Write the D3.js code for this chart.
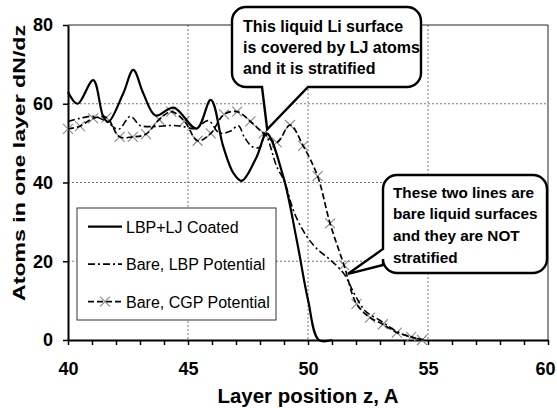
<!DOCTYPE html>
<html>
<head>
<meta charset="utf-8">
<script src="https://cdn.jsdelivr.net/npm/d3@7"></script>
<style>
  body { margin: 0; background: #fff; }
  text { font-family: "Liberation Sans", Arial, sans-serif; }
</style>
</head>
<body>
<div id="chart"></div>
<script>
// layer position z (A) and atoms per layer
const coatedZ = [40.0, 40.4, 41.05, 41.47, 41.68, 42.3, 42.72, 43.14, 43.65, 44.4, 45.36, 45.95, 46.47, 46.9, 47.24, 47.86, 48.28, 48.97, 49.53, 50.0, 50.45, 51.0];
const coatedN = [63, 60, 66, 56.7, 55.4, 62.6, 68.6, 62.6, 57, 59, 53.7, 61, 49.1, 42.3, 40.4, 46.5, 52.5, 41.5, 25.4, 10.2, 0, 0];

const lbpZ = [40.0, 40.5, 41.05, 41.6, 42.1, 42.6, 43.0, 43.6, 44.3, 44.8, 45.3, 45.85, 46.3, 46.75, 47.1, 47.35, 47.7, 48.0, 48.2, 48.7, 49.0, 49.45, 49.95, 50.4, 50.9, 51.5, 51.95, 52.4, 53.0, 53.6, 54.3, 54.9];
const lbpN = [55.5, 56.3, 56.8, 55.5, 53.5, 56.8, 54.5, 54.2, 54.5, 54.2, 53.7, 55.7, 52.6, 53, 54.4, 51.5, 49, 49, 52.5, 44, 40.5, 32, 26.3, 23, 20.5, 16.8, 11.5, 7.3, 5, 2.5, 0.7, 0];

const cgpZ = [40.0, 40.5, 41.05, 41.6, 42.15, 42.7, 43.25, 43.8, 44.3, 44.85, 45.4, 45.95, 46.5, 47.05, 47.6, 48.15, 48.7, 49.25, 49.8, 50.4, 50.92, 51.5, 52.02, 52.58, 53.12, 53.7, 54.3, 54.75];
const cgpN = [53.6, 54.3, 56.3, 56.5, 51.6, 51.6, 52.3, 56, 58, 55.6, 50.6, 52.5, 57.3, 58, 55.5, 52.5, 50.2, 54.6, 49.3, 41.6, 29.6, 19, 9.2, 5.7, 4, 1.9, 0.8, 0];

const xTicks = [40, 45, 50, 55, 60];
const yTicks = [0, 20, 40, 60, 80];
const seriesNames = ["LBP+LJ Coated", "Bare, LBP Potential", "Bare, CGP Potential"];
const note1 = ["This liquid Li surface", "is covered by LJ atoms", "and it is stratified"];
const note2 = ["These two lines are", "bare liquid surfaces", "and they are NOT", "stratified"];

const W = 557, H = 408;
const margin = { top: 25, right: 9, bottom: 68, left: 68 };
const width = W - margin.left - margin.right;
const height = H - margin.top - margin.bottom;

const svg = d3.select("#chart").append("svg")
  .attr("width", W)
  .attr("height", H);

const g = svg.append("g")
  .attr("transform", `translate(${margin.left},${margin.top})`);

const x = d3.scaleLinear().domain([40, 60]).range([0, width]);
const y = d3.scaleLinear().domain([0, 80]).range([height, 0]);

// dotted grid
g.append("g").selectAll("line")
  .data(xTicks.slice(1, -1))
  .join("line")
  .attr("x1", d => x(d)).attr("x2", d => x(d))
  .attr("y1", 0).attr("y2", height)
  .attr("stroke", "#777").attr("stroke-dasharray", "2,2");
g.append("g").selectAll("line")
  .data(yTicks.slice(1, -1))
  .join("line")
  .attr("x1", 0).attr("x2", width)
  .attr("y1", d => y(d)).attr("y2", d => y(d))
  .attr("stroke", "#777").attr("stroke-dasharray", "2,2");

// top + right frame
g.append("path")
  .attr("d", `M0,0H${width}V${height}`)
  .attr("fill", "none").attr("stroke", "#222").attr("stroke-width", 1);

// x axis: minor ticks every 1, labels every 5
const xAxis = g.append("g")
  .attr("transform", `translate(0,${height})`)
  .call(d3.axisBottom(x).tickValues(d3.range(40, 61, 1)).tickSize(5).tickSizeOuter(0).tickFormat(""));
xAxis.select(".domain").attr("stroke-width", 2);
xAxis.selectAll(".tick line").attr("stroke-width", 1.5);

g.append("g")
  .attr("transform", `translate(0,${height})`)
  .call(d3.axisBottom(x).tickValues(xTicks).tickSize(0).tickPadding(22))
  .call(a => a.select(".domain").remove())
  .selectAll("text")
  .attr("font-size", 18).attr("font-weight", "bold")
  .attr("font-family", "Liberation Sans, Arial, sans-serif").attr("fill", "#000")
  .attr("dx", d => d === 60 ? -3 : 0);

const yAxis = g.append("g")
  .call(d3.axisLeft(y).tickValues(yTicks).tickSize(5).tickSizeOuter(0).tickPadding(10));
yAxis.select(".domain").attr("stroke-width", 2);
yAxis.selectAll(".tick line").attr("stroke-width", 1.5);
yAxis.selectAll("text")
  .attr("font-size", 18).attr("font-weight", "bold")
  .attr("font-family", "Liberation Sans, Arial, sans-serif").attr("fill", "#000");

// axis titles
svg.append("text")
  .attr("x", margin.left + width / 2).attr("y", 403)
  .attr("text-anchor", "middle")
  .attr("font-size", 19.5).attr("font-weight", "bold")
  .attr("textLength", 181).attr("lengthAdjust", "spacingAndGlyphs")
  .text("Layer position z, A");

svg.append("text")
  .attr("transform", "translate(24.5,163) rotate(-90)")
  .attr("text-anchor", "middle")
  .attr("font-size", 17).attr("font-weight", "bold")
  .attr("textLength", 276).attr("lengthAdjust", "spacingAndGlyphs")
  .text("Atoms in one layer dN/dz");

// series
const line = d3.line()
  .x(d => x(d[0]))
  .y(d => y(d[1]))
  .curve(d3.curveCatmullRom.alpha(0.5));

const coated = coatedZ.map((z, i) => [z, coatedN[i]]);
const lbp = lbpZ.map((z, i) => [z, lbpN[i]]);
const cgp = cgpZ.map((z, i) => [z, cgpN[i]]);

const plot = g.append("g");

const xMark = (sel, s) => sel.append("path")
  .attr("d", `M${-s},${-s}L${s},${s}M${-s},${s}L${s},${-s}`)
  .attr("stroke", "#8a8a8a").attr("stroke-width", 1.1).attr("fill", "none");

plot.selectAll(".cgpmark")
  .data(cgp)
  .join("g")
  .attr("class", "cgpmark")
  .attr("transform", d => `translate(${x(d[0])},${y(d[1])})`)
  .each(function () { xMark(d3.select(this), 5); });

plot.append("path").datum(cgp)
  .attr("d", line)
  .attr("fill", "none").attr("stroke", "#000").attr("stroke-width", 1.7)
  .attr("stroke-dasharray", "6,3");

plot.append("path").datum(lbp)
  .attr("d", line)
  .attr("fill", "none").attr("stroke", "#000").attr("stroke-width", 1.6)
  .attr("stroke-dasharray", "7,3,2,3");

plot.append("path").datum(coated)
  .attr("d", line)
  .attr("fill", "none").attr("stroke", "#000").attr("stroke-width", 2.2);

// legend
const legend = svg.append("g").attr("transform", "translate(77,208)");
legend.append("rect")
  .attr("width", 199).attr("height", 112)
  .attr("fill", "#fff").attr("stroke", "#333").attr("stroke-width", 1);

const dashes = [null, "7,3,2,3", "6,3"];
seriesNames.forEach((name, i) => {
  const ly = 18.7 + i * 37.5;
  legend.append("line")
    .attr("x1", 11).attr("x2", 45).attr("y1", ly).attr("y2", ly)
    .attr("stroke", "#000").attr("stroke-width", i === 0 ? 2.2 : 1.7)
    .attr("stroke-dasharray", dashes[i]);
  if (i === 2) {
    xMark(legend.append("g").attr("transform", `translate(28,${ly})`), 5);
  }
  legend.append("text")
    .attr("x", 49).attr("y", ly + 5.8)
    .attr("font-size", 16)
    .text(name);
});

// callouts
const r = 14;
const c1 = { x0: 232, y0: 7, x1: 421, y1: 87, p0: 262, p1: 308 };
const tip1 = [margin.left + x(48.3), margin.top + y(53.5)];
svg.append("path")
  .attr("d", `M${c1.x0 + r},${c1.y0}H${c1.x1 - r}A${r},${r} 0 0 1 ${c1.x1},${c1.y0 + r}` +
    `V${c1.y1 - r}A${r},${r} 0 0 1 ${c1.x1 - r},${c1.y1}H${c1.p1}L${tip1[0]},${tip1[1]}L${c1.p0},${c1.y1}` +
    `H${c1.x0 + r}A${r},${r} 0 0 1 ${c1.x0},${c1.y1 - r}V${c1.y0 + r}A${r},${r} 0 0 1 ${c1.x0 + r},${c1.y0}Z`)
  .attr("fill", "#fff").attr("stroke", "#000").attr("stroke-width", 2.4);
note1.forEach((t, i) => {
  svg.append("text")
    .attr("x", 243).attr("y", 32 + i * 21)
    .attr("font-size", 16).attr("font-weight", "bold")
    .text(t);
});

const c2 = { x0: 383, y0: 175, x1: 547, y1: 273, q0: 249, q1: 265 };
const tip2 = [margin.left + x(51.67), margin.top + y(16.8)];
svg.append("path")
  .attr("d", `M${c2.x0 + r},${c2.y0}H${c2.x1 - r}A${r},${r} 0 0 1 ${c2.x1},${c2.y0 + r}` +
    `V${c2.y1 - r}A${r},${r} 0 0 1 ${c2.x1 - r},${c2.y1}H${c2.x0 + r}A${r},${r} 0 0 1 ${c2.x0},${c2.y1 - r}` +
    `V${c2.q1}L${tip2[0]},${tip2[1]}L${c2.x0},${c2.q0}V${c2.y0 + r}A${r},${r} 0 0 1 ${c2.x0 + r},${c2.y0}Z`)
  .attr("fill", "#fff").attr("stroke", "#000").attr("stroke-width", 2.4);
note2.forEach((t, i) => {
  svg.append("text")
    .attr("x", 393).attr("y", 197.5 + i * 21.7)
    .attr("font-size", 15.3).attr("font-weight", "bold")
    .text(t);
});
</script>
</body>
</html>
